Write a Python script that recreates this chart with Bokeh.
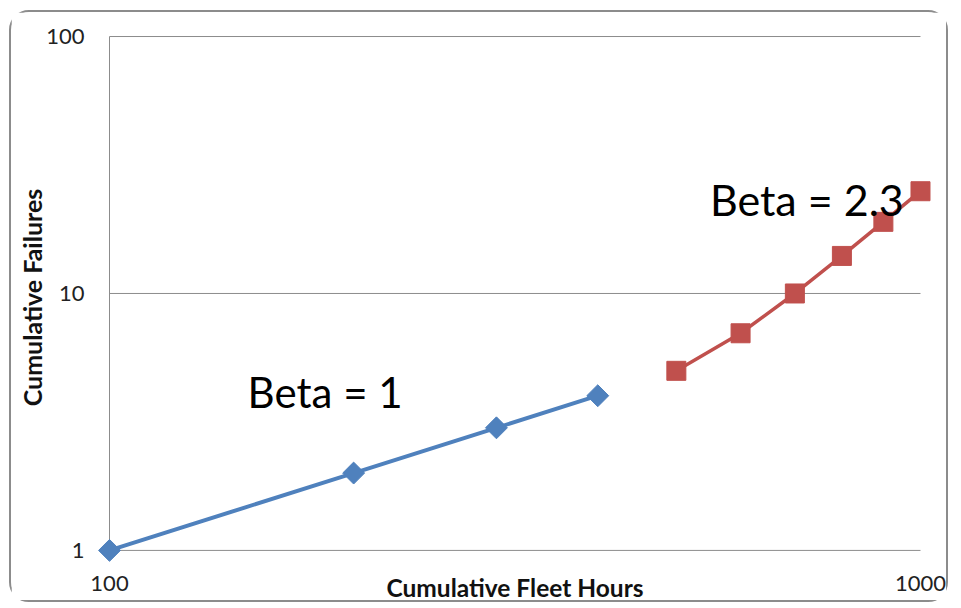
import math
from bokeh.plotting import figure
from bokeh.models import ColumnDataSource, Range1d, FixedTicker, BasicTickFormatter, Label
from bokeh.embed import file_html
from bokeh.resources import INLINE

# ---- data ----
blue_hours = [100, 200, 300, 400]
blue_failures = [1, 2, 3, 4]
red_hours = [500, 600, 700, 800, 900, 1000]
red_failures = [5, 7, 10, 14, 19, 25]
x_ticks = [100, 1000]
y_ticks = [1, 10, 100]
x_title = "Cumulative Fleet Hours"
y_title = "Cumulative Failures"
label_blue = "Beta = 1"
label_red = "Beta = 2.3"

BLUE = "#4F81BD"
RED = "#C0504D"
GRID = "#8c8c8c"
FONT = "Lato"

# pad ranges a little so corner markers are not clipped (pixels / pixels-per-decade)
xpad = 10 ** (12 / 810)
ypad_lo = 10 ** (12 / 255)
ypad_hi = 10 ** (4 / 255)

p = figure(width=939, height=592, output_backend="svg", toolbar_location=None,
           x_axis_type="log", y_axis_type="log",
           x_range=Range1d(x_ticks[0] / xpad, x_ticks[-1] * xpad),
           y_range=Range1d(y_ticks[0] / ypad_lo, y_ticks[-1] * ypad_hi),
           min_border_left=86, min_border_top=20, min_border_right=18, min_border_bottom=42)
p.styles = {"border": "2px solid #8c8c8c", "border-radius": "20px",
            "margin-left": "9px", "margin-top": "10px", "vertical-align": "top"}
p.outline_line_color = None
p.background_fill_color = "white"
p.border_fill_color = "white"
p.xgrid.grid_line_color = None
p.ygrid.grid_line_color = None

# gridlines and axis lines drawn from the tick lists
p.segment(x0=[x_ticks[0]] * len(y_ticks), x1=[x_ticks[-1]] * len(y_ticks),
          y0=y_ticks, y1=y_ticks, line_color=GRID, line_width=1)
p.segment(x0=[x_ticks[0]], x1=[x_ticks[0]], y0=[y_ticks[0]], y1=[y_ticks[-1]],
          line_color=GRID, line_width=1)

for ax in (p.xaxis[0], p.yaxis[0]):
    ax.formatter = BasicTickFormatter()
    ax.axis_line_color = None
    ax.major_tick_line_color = None
    ax.minor_tick_line_color = None
    ax.major_label_text_font = FONT
    ax.major_label_text_font_size = "22px"
    ax.major_label_text_color = "#222222"
    ax.axis_label_text_font = FONT
    ax.axis_label_text_font_style = "bold"
    ax.axis_label_text_color = "#111111"

p.xaxis[0].axis_label_text_font_size = "24.5px"
p.yaxis[0].axis_label_text_font_size = "25px"
p.xaxis[0].ticker = FixedTicker(ticks=x_ticks)
p.yaxis[0].ticker = FixedTicker(ticks=y_ticks)
p.xaxis[0].major_label_standoff = 7
p.yaxis[0].major_label_standoff = 7
p.xaxis[0].axis_label = x_title
p.yaxis[0].axis_label = y_title
p.xaxis[0].axis_label_standoff = -21
p.yaxis[0].axis_label_standoff = -4

blue_src = ColumnDataSource(dict(x=blue_hours, y=blue_failures))
red_src = ColumnDataSource(dict(x=red_hours, y=red_failures))

p.line("x", "y", source=blue_src, line_color=BLUE, line_width=4)
p.scatter("x", "y", source=blue_src, marker="square", angle=math.pi / 4, size=15.5,
          fill_color=BLUE, line_color=BLUE)
p.line("x", "y", source=red_src, line_color=RED, line_width=3.5)
p.scatter("x", "y", source=red_src, marker="square", size=19,
          fill_color=RED, line_color=RED)

p.add_layout(Label(x=148, y=4.14, text=label_blue, text_font=FONT, text_font_size="42px",
                   text_baseline="alphabetic", text_align="left", text_color="#000000"))
p.add_layout(Label(x=550, y=23.2, text=label_red, text_font=FONT, text_font_size="43px",
                   text_baseline="alphabetic", text_align="left", text_color="#000000"))

open("out.html", "w").write(file_html(p, INLINE))
